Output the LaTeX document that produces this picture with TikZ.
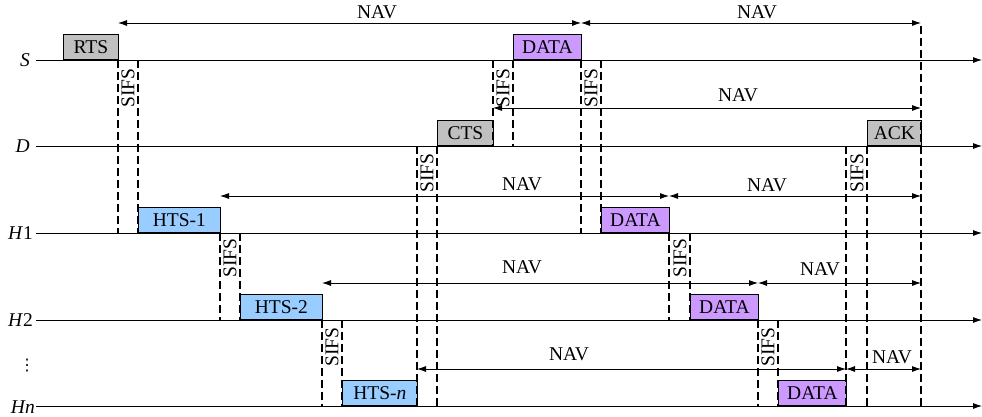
\documentclass[tikz,border=0pt]{standalone}
\usepackage{fontspec}
\setmainfont{Liberation Serif}
\newfontfamily\dejavu{DejaVu Sans}
\usetikzlibrary{arrows.meta}
\definecolor{ctlgray}{RGB}{192,192,192}
\definecolor{datapurple}{RGB}{204,153,255}
\definecolor{htsblue}{RGB}{153,204,255}
\tikzset{
  tip/.tip={Latex[length=9pt,width=6pt]},
  timeline/.style={line width=0.8pt, -tip},
  navarrow/.style={line width=0.8pt, tip-tip},
  dline/.style={line width=2.6pt, dash pattern=on 8pt off 4pt},
  pkt/.style={draw, line width=0.8pt, inner sep=0pt, anchor=south west, minimum height=25pt},
  ctlpkt/.style={pkt, fill=ctlgray},
  datapkt/.style={pkt, fill=datapurple},
  htspkt/.style={pkt, fill=htsblue},
  sifs/.style={rotate=90, inner sep=0pt},
  navlbl/.style={inner sep=0pt},
  rowlbl/.style={inner sep=0pt, anchor=east},
}
\begin{document}
\begin{tikzpicture}[x=1pt,y=-1pt,font=\fontsize{19.5}{21}\selectfont]
\useasboundingbox (0,0) rectangle (982,416);

% row labels
\node[rowlbl] (ls) at (30,60) {\textit{S}};
\node[rowlbl] (ld) at (30,146) {\textit{D}};
\node[rowlbl] (lh1) at (33,233) {\textit{H}1};
\node[rowlbl] (lh2) at (33,320) {\textit{H}2};
\node[inner sep=0pt] (ldots) at (27,366) {\dejavu\fontsize{16}{18}\selectfont ⋮};
\node[rowlbl] (lhn) at (35,407) {\textit{Hn}};

% timelines
\foreach \n/\y in {s/60,d/146,ha/233,hb/320,hn/406}{
  \coordinate (\n L) at (36,\y);
  \coordinate (\n R) at (982,\y);
  \draw[timeline] (\n L) -- (\n R);
}

% packets
\node[ctlpkt, minimum width=55pt] (rts) at (63,60) {RTS};
\node[datapkt, minimum width=68pt] (sdata) at (513,60) {DATA};
\node[ctlpkt, minimum width=56pt] (cts) at (437,146) {CTS};
\node[ctlpkt, minimum width=54pt] (ack) at (867,146) {ACK};
\node[htspkt, minimum width=82pt] (hts1) at (138,233) {HTS-1};
\node[datapkt, minimum width=68pt] (d1) at (601,233) {DATA};
\node[htspkt, minimum width=82pt] (hts2) at (240,320) {HTS-2};
\node[datapkt, minimum width=68pt] (d2) at (690,320) {DATA};
\node[htspkt, minimum width=75pt] (htsn) at (342,406) {HTS-\textit{n}};
\node[datapkt, minimum width=68pt] (dn) at (778,406) {DATA};

% dashed vertical lines
\foreach \x/\a/\b in {118/60/233,138/60/233,220/233/320,240/233/320,322/320/406,342/320/406,
  417/146/406,437/146/406,493/60/146,513/60/146,581/60/233,601/60/233,669/233/320,690/233/320,
  758/320/406,778/320/406,846/146/406,867/146/406,921/26/406}{
  \coordinate (v\x a) at (\x,\a);
  \coordinate (v\x b) at (\x,\b);
  \draw[dline] (v\x a) -- (v\x b);
}

% SIFS labels
\foreach \x/\y in {128/88,503/88,591/88,427/173,857/173,230/258,680/258,332/347,768/347}{
  \node[sifs] at (\x,\y) {SIFS};
}

% NAV arrows
\coordinate (n1a) at (118,23); \coordinate (n1b) at (581,23); \coordinate (n1c) at (921,23);
\draw[navarrow] (n1a) -- (n1b);
\draw[navarrow] (n1b) -- (n1c);
\node[navlbl] at (377,12) {NAV};
\node[navlbl] at (757,12) {NAV};

\coordinate (n2a) at (493,108); \coordinate (n2b) at (921,108);
\draw[navarrow] (n2a) -- (n2b);
\node[navlbl] at (738,95) {NAV};

\coordinate (n3a) at (220,196); \coordinate (n3b) at (669,196); \coordinate (n3c) at (921,196);
\draw[navarrow] (n3a) -- (n3b);
\draw[navarrow] (n3b) -- (n3c);
\node[navlbl] at (522,184) {NAV};
\node[navlbl] at (767,185) {NAV};

\coordinate (n4a) at (322,283); \coordinate (n4b) at (758,283); \coordinate (n4c) at (921,283);
\draw[navarrow] (n4a) -- (n4b);
\draw[navarrow] (n4b) -- (n4c);
\node[navlbl] at (522,267) {NAV};
\node[navlbl] at (820,269) {NAV};

\coordinate (n5a) at (417,369); \coordinate (n5b) at (846,369); \coordinate (n5c) at (921,369);
\draw[navarrow] (n5a) -- (n5b);
\draw[navarrow] (n5b) -- (n5c);
\node[navlbl] at (569,354) {NAV};
\node[navlbl] at (892,357) {NAV};
\end{tikzpicture}
\end{document}
